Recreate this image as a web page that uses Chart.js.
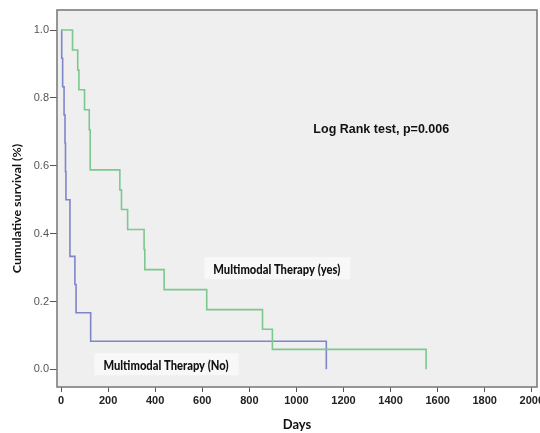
<!DOCTYPE html>
<html>
<head>
<meta charset="utf-8">
<script src="https://cdn.jsdelivr.net/npm/chart.js@4"></script>
<style>
  html, body { margin: 0; padding: 0; background: #fff; }
  #wrap { width: 540px; height: 433px; }
</style>
</head>
<body>
<div id="wrap"><canvas id="kmChart"></canvas></div>
<script>
// Kaplan-Meier steps: day of event and survival after it
const yesDays = [0, 49, 71, 76, 100, 120, 124, 250, 257, 283, 353, 356, 438, 619, 856, 898, 1551];
const yesSurvival = [1, 0.941, 0.882, 0.824, 0.765, 0.706, 0.588, 0.529, 0.471, 0.412, 0.353, 0.294, 0.235, 0.176, 0.118, 0.059, 0];
const noDays = [0, 3, 7, 13, 17, 19, 21, 38, 59, 64, 126, 1127];
const noSurvival = [1, 0.917, 0.833, 0.75, 0.667, 0.583, 0.5, 0.333, 0.25, 0.167, 0.083, 0];

const xTicks = [0, 200, 400, 600, 800, 1000, 1200, 1400, 1600, 1800, 2000];
const yTicks = [0, 0.2, 0.4, 0.6, 0.8, 1.0];

const seriesNames = ['Multimodal Therapy (yes)', 'Multimodal Therapy (No)'];
const pValueText = 'Log Rank test, p=0.006';

function toPoints(days, values) {
    return days.map((d, i) => ({ x: d, y: values[i] }));
}

// draw text squeezed horizontally, like the original picture
function squeezedText(ctx, text, x, y, sx) {
    ctx.save();
    ctx.translate(x, y);
    ctx.scale(sx, 1);
    ctx.fillText(text, 0, 0);
    ctx.restore();
}

const plotDecor = {
    id: 'plotDecor',
    beforeDraw(chart) {
        const { ctx, chartArea: a } = chart;
        ctx.save();
        ctx.fillStyle = '#efefef';
        ctx.fillRect(a.left, a.top, a.right - a.left, a.bottom - a.top);
        ctx.restore();
    },
    afterDatasetsDraw(chart) {
        const { ctx, chartArea: a } = chart;
        const xs = chart.scales.x;
        const ys = chart.scales.y;
        ctx.save();
        ctx.textBaseline = 'middle';
        ctx.textAlign = 'left';

        // series labels in light boxes
        const labels = [
            { text: seriesNames[0], x: 647, y: 0.298 },
            { text: seriesNames[1], x: 180, y: 0.015 }
        ];
        ctx.font = '900 14px Lato, sans-serif';
        const sx = 0.8;
        labels.forEach(l => {
            const px = xs.getPixelForValue(l.x);
            const py = ys.getPixelForValue(l.y);
            const w = ctx.measureText(l.text).width * sx;
            ctx.fillStyle = '#f8f8f8';
            ctx.fillRect(px - 9, py - 11, w + 19, 22);
            ctx.fillStyle = '#111';
            squeezedText(ctx, l.text, px, py + 1, sx);
        });

        ctx.font = 'bold 12.5px "Liberation Sans", Arial, sans-serif';
        ctx.fillStyle = '#111';
        ctx.fillText(pValueText, xs.getPixelForValue(1072), ys.getPixelForValue(0.708));

        // y axis title
        ctx.save();
        ctx.translate(18, (a.top + a.bottom) / 2 + 10);
        ctx.rotate(-Math.PI / 2);
        ctx.scale(1, 0.85);
        ctx.textAlign = 'center';
        ctx.font = 'bold 12.5px Lato, sans-serif';
        ctx.fillText('Cumulative survival (%)', 0, 0);
        ctx.restore();

        // frame
        ctx.strokeStyle = '#7d7d7d';
        ctx.lineWidth = 1.6;
        ctx.strokeRect(a.left, a.top, a.right - a.left, a.bottom - a.top);
        ctx.restore();
    }
};

new Chart(document.getElementById('kmChart'), {
    type: 'line',
    data: {
        datasets: [
            {
                label: seriesNames[0],
                data: toPoints(yesDays, yesSurvival),
                borderColor: '#7cc88e',
                borderWidth: 1.6,
                stepped: 'before',
                pointRadius: 0,
                fill: false
            },
            {
                label: seriesNames[1],
                data: toPoints(noDays, noSurvival),
                borderColor: '#7f86c8',
                borderWidth: 1.6,
                stepped: 'before',
                pointRadius: 0,
                fill: false
            }
        ]
    },
    options: {
        responsive: true,
        maintainAspectRatio: false,
        animation: false,
        layout: { padding: { top: 10, right: 3, left: 0, bottom: 0 } },
        plugins: {
            legend: { display: false },
            tooltip: { enabled: false }
        },
        scales: {
            x: {
                type: 'linear',
                min: -17,
                max: 2022,
                afterBuildTicks: axis => { axis.ticks = xTicks.map(v => ({ value: v })); },
                afterFit: scale => {
                    scale.height = 46;
                    scale.paddingLeft = 0;
                    scale.paddingRight = 0;
                },
                border: { display: false },
                grid: { drawOnChartArea: false, drawTicks: true, tickLength: 5, color: '#555', lineWidth: 1 },
                ticks: {
                    autoSkip: false,
                    maxRotation: 0,
                    padding: 2,
                    color: '#222',
                    font: { family: '"Liberation Sans Narrow", "Arial Narrow", sans-serif', size: 11, weight: 'bold' },
                    callback: v => String(v)
                },
                title: {
                    display: true,
                    text: 'Days',
                    color: '#111',
                    font: { family: 'Lato, sans-serif', size: 13, weight: 'bold' },
                    padding: { top: 0, bottom: 0 }
                }
            },
            y: {
                min: -0.052,
                max: 1.059,
                afterBuildTicks: axis => { axis.ticks = yTicks.map(v => ({ value: v })); },
                afterFit: scale => {
                    scale.width = 57;
                    scale.paddingTop = 0;
                    scale.paddingBottom = 0;
                },
                border: { display: false },
                grid: { drawOnChartArea: false, drawTicks: true, tickLength: 7, color: '#555', lineWidth: 1 },
                ticks: {
                    padding: 1,
                    color: '#555',
                    font: { family: '"Liberation Sans Narrow", "Arial Narrow", sans-serif', size: 11 },
                    callback: v => v.toFixed(1)
                }
            }
        }
    },
    plugins: [plotDecor]
});
</script>
</body>
</html>
